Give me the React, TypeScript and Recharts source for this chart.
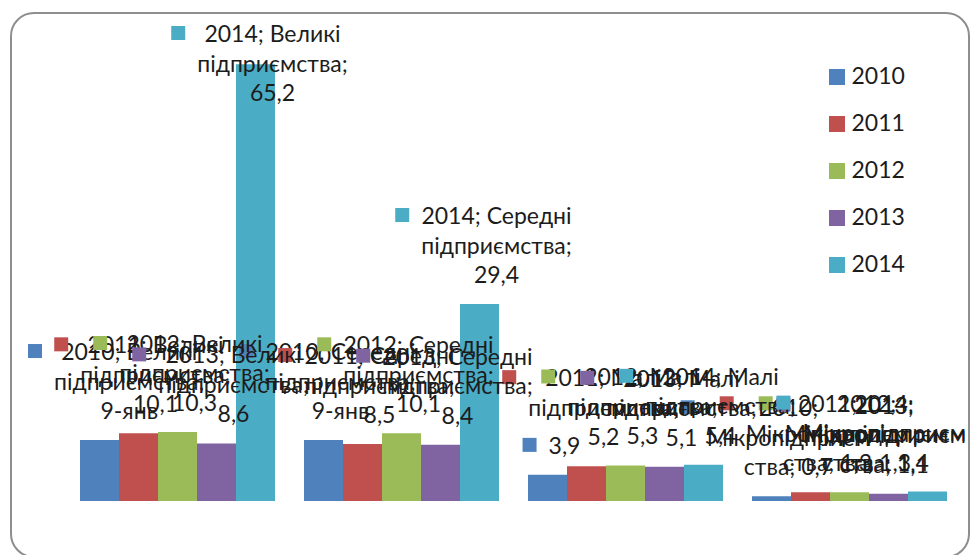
import React from 'react';
import { BarChart, Bar, XAxis, YAxis, Legend, LabelList } from 'recharts';

// ---------- data ----------
const categories = ['Великі підприємства', 'Середні підприємства', 'Малі підприємства', 'Мікропідприємства'];
const years = ['2010', '2011', '2012', '2013', '2014'];
const values2010 = [9.1, 9.1, 3.9, 0.7];
const values2011 = [10.1, 8.5, 5.2, 1.3];
const values2012 = [10.3, 10.1, 5.3, 1.3];
const values2013 = [8.6, 8.4, 5.1, 1.1];
const values2014 = [65.2, 29.4, 5.4, 1.4];
// label text overrides as shown in the source (value formatted as a date by the spreadsheet)
const labelOverride2010 = ['9-янв', '9-янв', null, null];
// 2010 "Малі" label shows only the value
const fullLabel2010 = [true, true, false, true];
const yDomain = [0, 70];

const seriesValues = [values2010, values2011, values2012, values2013, values2014];
const colors = ['#4F81BD', '#C0504D', '#9BBB59', '#8064A2', '#4BACC6'];

const data = categories.map((cat, i) => {
  const row: any = { cat };
  years.forEach((y, s) => { row[y] = seriesValues[s][i]; });
  return row;
});

// ---------- style ----------
const FONT_FAMILY = 'Lato, "Noto Sans", sans-serif';
const FONT_SIZE = 23;
const TEXT_COLOR = '#1c1c1c';
const LINE_H = 29.5;
const KEY = 14;
const KEY_SPACE = 26;

let ctx: CanvasRenderingContext2D | null = null;
function measure(t: string): number {
  if (!ctx) {
    const c = document.createElement('canvas');
    ctx = c.getContext('2d');
  }
  if (!ctx) return t.length * FONT_SIZE * 0.5;
  ctx.font = `${FONT_SIZE}px ${FONT_FAMILY}`;
  return ctx.measureText(t).width;
}

function maxLabelWidth() {
  return measure('Мікропідприєм') + 3;
}

function wrap(text: string, maxW: number): string[] {
  const words = text.split(' ');
  const lines: string[] = [];
  let cur = '';
  for (const w of words) {
    const cand = cur ? cur + ' ' + w : w;
    if (measure(cand) <= maxW) { cur = cand; continue; }
    if (cur) { lines.push(cur); cur = ''; }
    if (measure(w) <= maxW) { cur = w; continue; }
    let part = '';
    for (const ch of Array.from(w)) {
      if (measure(part + ch) <= maxW) part += ch;
      else { lines.push(part); part = ch; }
    }
    cur = part;
  }
  if (cur) lines.push(cur);
  return lines;
}

function fmt(v: number) {
  return String(v).replace('.', ',');
}

function makeLabel(seriesIdx: number) {
  return (props: any) => {
    const vb = props.viewBox || props;
    const x = Number(vb.x ?? props.x);
    const y = Number(vb.y ?? props.y);
    const w = Number(vb.width ?? props.width);
    const idx = props.index;
    if (!isFinite(x) || !isFinite(y) || idx == null) return null;
    const value = seriesValues[seriesIdx][idx];
    const override = seriesIdx === 0 ? labelOverride2010[idx] : null;
    const vText = override ?? fmt(value);
    const full = seriesIdx === 0 ? fullLabel2010[idx] : true;
    const text = full ? `${years[seriesIdx]}; ${categories[idx]}; ${vText}` : vText;
    const lines = wrap(text, maxLabelWidth());
    const blockW = Math.max(...lines.map(measure));
    const boxW = KEY_SPACE + blockW;
    const cx = x + w / 2 + 4;
    let left = cx - boxW / 2;
    if (left + boxW > 966) left = 966 - boxW;
    if (left < 28) left = 28;
    let first = y - 21 - (lines.length - 1) * LINE_H;
    if (first < 42) first = 42;
    const textCx = left + KEY_SPACE + blockW / 2;
    return (
      <g>
        <rect x={left} y={first - 16} width={KEY} height={KEY} fill={colors[seriesIdx]} />
        {lines.map((ln, i) => (
          <text
            key={i}
            x={textCx}
            y={first + i * LINE_H}
            textAnchor="middle"
            fontFamily={FONT_FAMILY}
            fontSize={FONT_SIZE}
            fill={TEXT_COLOR}
          >
            {ln}
          </text>
        ))}
      </g>
    );
  };
}

function LegendBox() {
  return (
    <svg width={130} height={240} style={{ display: 'block' }}>
      {years.map((y, i) => (
        <g key={y}>
          <rect x={0} y={7 + i * 47} width={16} height={16} fill={colors[i]} />
          <text x={22.5} y={22.3 + i * 47} fontFamily={FONT_FAMILY} fontSize={FONT_SIZE} fill={TEXT_COLOR}>
            {y}
          </text>
        </g>
      ))}
    </svg>
  );
}

export default function App() {
  return (
    <div style={{ position: 'absolute', left: 0, top: 0, width: 971, height: 555, overflow: 'hidden', background: '#fff' }}>
      <div
        style={{
          position: 'absolute',
          left: 10,
          top: 12,
          width: 960,
          height: 546,
          boxSizing: 'border-box',
          border: '2.5px solid #8e8e8e',
          borderRadius: 24,
        }}
      />
      <div style={{ position: 'absolute', left: 0, top: 0 }}>
        <BarChart
          width={971}
          height={555}
          data={data}
          margin={{ top: 32, right: 9.5, bottom: 54, left: 65.5 }}
          barCategoryGap={14.5}
          barGap={0}
        >
          <XAxis dataKey="cat" hide xAxisId="main" />
          <XAxis dataKey="cat" hide xAxisId="overlay" />
          <YAxis hide domain={yDomain} />
          {years.map((y, i) => (
            <Bar key={'b' + y} dataKey={y} name={y} xAxisId="main" fill={colors[i]} isAnimationActive={false} />
          ))}
          {years.map((y, i) => (
            <Bar
              key={'o' + y}
              dataKey={y}
              xAxisId="overlay"
              fill="transparent"
              legendType="none"
              isAnimationActive={false}
            >
              <LabelList dataKey={y} content={makeLabel(i)} />
            </Bar>
          ))}
          <Legend
            layout="vertical"
            align="center"
            verticalAlign="middle"
            content={() => <LegendBox />}
            wrapperStyle={{ left: 829, top: 62, width: 130, height: 240 }}
          />
        </BarChart>
      </div>
    </div>
  );
}
